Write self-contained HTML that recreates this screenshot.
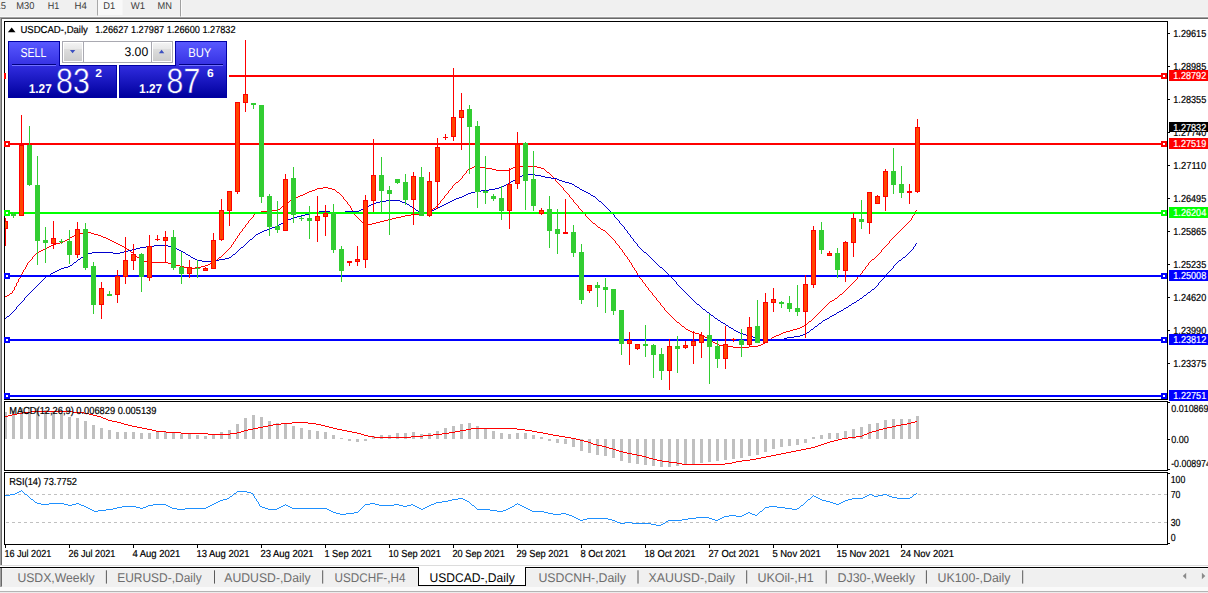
<!DOCTYPE html>
<html><head><meta charset="utf-8"><title>USDCAD Daily</title>
<style>html,body{margin:0;padding:0;background:#f0f0f0;overflow:hidden}body{width:1208px;height:593px;font-family:"Liberation Sans",sans-serif}</style></head>
<body>
<svg width="1208" height="593" viewBox="0 0 1208 593" font-family="Liberation Sans, sans-serif" style="display:block;text-rendering:geometricPrecision">
<defs><linearGradient id="gb1" x1="0" y1="0" x2="0" y2="1"><stop offset="0" stop-color="#5858ff"/><stop offset="1" stop-color="#3430e2"/></linearGradient><linearGradient id="gb2" gradientUnits="userSpaceOnUse" x1="0" y1="66" x2="0" y2="97"><stop offset="0" stop-color="#302cde"/><stop offset="1" stop-color="#00009e"/></linearGradient><linearGradient id="gbtn" x1="0" y1="0" x2="0" y2="1"><stop offset="0" stop-color="#f3f3f3"/><stop offset="0.34" stop-color="#e8e8e8"/><stop offset="0.35" stop-color="#dddddd"/><stop offset="1" stop-color="#cdcdcd"/></linearGradient><linearGradient id="gtb" x1="0" y1="0" x2="0" y2="1"><stop offset="0" stop-color="#f0f0f0"/><stop offset="0.4" stop-color="#c8c8c8"/><stop offset="1" stop-color="#9a9a9a"/></linearGradient></defs>
<rect x="0" y="0" width="1208" height="593" fill="#f0f0f0"/>
<rect x="0" y="16" width="1208" height="1" fill="#f8f8f8"/>
<rect x="0" y="17" width="1208" height="1" fill="#a0a0a0"/>
<rect x="0" y="18" width="1208" height="1" fill="#696969"/>
<rect x="0" y="18" width="1" height="547" fill="#a0a0a0"/>
<rect x="1" y="19" width="1" height="546" fill="#696969"/>
<rect x="2" y="19" width="1206" height="546.5" fill="#fff"/>
<rect x="97.5" y="0" width="25" height="15" fill="#f9f9f9"/>
<rect x="97" y="0" width="1" height="15.5" fill="#a8a8a8"/>
<rect x="180" y="0" width="1" height="16.5" fill="#a0a0a0"/>
<rect x="181" y="0" width="1" height="16" fill="#fbfbfb"/>
<text x="-4.5" y="8.6" font-size="9.9" fill="#3c3c3c" textLength="10.5" lengthAdjust="spacingAndGlyphs" >15</text>
<text x="16.3" y="8.6" font-size="9.9" fill="#3c3c3c" textLength="18.1" lengthAdjust="spacingAndGlyphs" >M30</text>
<text x="47.7" y="8.6" font-size="9.9" fill="#3c3c3c" textLength="11.5" lengthAdjust="spacingAndGlyphs" >H1</text>
<text x="74.5" y="8.6" font-size="9.9" fill="#3c3c3c" textLength="12.3" lengthAdjust="spacingAndGlyphs" >H4</text>
<text x="103.3" y="8.6" font-size="9.9" fill="#3c3c3c" textLength="11.9" lengthAdjust="spacingAndGlyphs" >D1</text>
<text x="130.7" y="8.6" font-size="9.9" fill="#3c3c3c" textLength="14.3" lengthAdjust="spacingAndGlyphs" >W1</text>
<text x="157.6" y="8.6" font-size="9.9" fill="#3c3c3c" textLength="14.4" lengthAdjust="spacingAndGlyphs" >MN</text>
<g shape-rendering="crispEdges">
<path d="M474 166.5h4M515 166.5h22M472 167.5h2M478 167.5h8M513 167.5h2M537 167.5h4M470 168.5h2M486 168.5h6M511 168.5h2M541 168.5h3M468 169.5h2M492 169.5h4M509 169.5h2M544 169.5h1M467 170.5h1M496 170.5h13M545 170.5h1M466 171.5h1M546 171.5h1M466 172.5h1M547 172.5h2M465 173.5h1M549 173.5h1M464 174.5h1M550 174.5h1M463 175.5h1M551 175.5h1M462 176.5h1M552 176.5h1M462 177.5h1M553 177.5h1M461 178.5h1M554 178.5h1M460 179.5h1M555 179.5h1M459 180.5h1M555 180.5h1M458 181.5h1M556 181.5h1M456 182.5h2M557 182.5h1M455 183.5h1M558 183.5h1M454 184.5h1M559 184.5h1M453 185.5h1M560 185.5h1M452 186.5h1M561 186.5h1M323 187.5h5M452 187.5h1M562 187.5h1M317 188.5h6M328 188.5h4M451 188.5h1M563 188.5h1M315 189.5h2M332 189.5h3M450 189.5h1M563 189.5h1M312 190.5h3M335 190.5h1M449 190.5h1M564 190.5h1M309 191.5h3M336 191.5h1M448 191.5h1M565 191.5h1M307 192.5h2M337 192.5h2M448 192.5h1M566 192.5h1M305 193.5h2M339 193.5h1M447 193.5h1M567 193.5h1M303 194.5h2M340 194.5h1M446 194.5h1M568 194.5h1M300 195.5h3M341 195.5h1M445 195.5h1M569 195.5h1M298 196.5h2M342 196.5h1M444 196.5h1M569 196.5h1M295 197.5h3M343 197.5h1M444 197.5h1M570 197.5h1M293 198.5h2M343 198.5h1M443 198.5h1M571 198.5h1M292 199.5h1M344 199.5h1M442 199.5h1M572 199.5h1M290 200.5h2M345 200.5h1M441 200.5h1M573 200.5h1M289 201.5h1M346 201.5h1M440 201.5h1M573 201.5h1M288 202.5h1M347 202.5h1M440 202.5h1M574 202.5h1M286 203.5h2M347 203.5h1M439 203.5h1M575 203.5h1M285 204.5h1M348 204.5h1M438 204.5h1M576 204.5h1M284 205.5h1M349 205.5h1M437 205.5h1M577 205.5h1M282 206.5h2M350 206.5h1M436 206.5h1M578 206.5h1M281 207.5h1M350 207.5h1M435 207.5h1M578 207.5h1M280 208.5h1M351 208.5h1M433 208.5h2M579 208.5h1M278 209.5h2M351 209.5h1M432 209.5h1M580 209.5h1M270 210.5h8M352 210.5h1M431 210.5h1M581 210.5h1M916 210.5h1M261 211.5h9M353 211.5h1M429 211.5h2M582 211.5h1M915 211.5h1M257 212.5h4M353 212.5h1M427 212.5h2M583 212.5h1M915 212.5h1M255 213.5h2M354 213.5h1M424 213.5h3M584 213.5h1M914 213.5h1M254 214.5h1M354 214.5h1M411 214.5h13M585 214.5h1M914 214.5h1M253 215.5h1M355 215.5h1M405 215.5h6M585 215.5h1M913 215.5h1M253 216.5h1M356 216.5h1M401 216.5h4M586 216.5h1M912 216.5h1M252 217.5h1M357 217.5h1M396 217.5h5M587 217.5h1M912 217.5h1M251 218.5h1M358 218.5h1M392 218.5h4M588 218.5h1M911 218.5h1M250 219.5h1M359 219.5h1M388 219.5h4M589 219.5h1M911 219.5h1M249 220.5h1M360 220.5h1M384 220.5h4M590 220.5h1M910 220.5h1M248 221.5h1M361 221.5h1M380 221.5h4M591 221.5h1M909 221.5h1M248 222.5h1M362 222.5h1M376 222.5h4M592 222.5h1M908 222.5h1M247 223.5h1M363 223.5h3M372 223.5h4M593 223.5h2M907 223.5h1M246 224.5h1M366 224.5h6M595 224.5h1M906 224.5h1M245 225.5h1M596 225.5h1M905 225.5h1M245 226.5h1M597 226.5h1M904 226.5h1M244 227.5h1M598 227.5h2M903 227.5h1M243 228.5h1M600 228.5h1M902 228.5h1M242 229.5h1M601 229.5h2M901 229.5h1M242 230.5h1M603 230.5h2M900 230.5h1M241 231.5h1M605 231.5h1M899 231.5h1M84 232.5h7M240 232.5h1M606 232.5h1M898 232.5h1M77 233.5h7M91 233.5h3M239 233.5h1M607 233.5h1M897 233.5h1M75 234.5h2M94 234.5h4M239 234.5h1M608 234.5h1M896 234.5h1M74 235.5h1M98 235.5h3M238 235.5h1M609 235.5h1M895 235.5h1M72 236.5h2M101 236.5h2M237 236.5h1M610 236.5h1M894 236.5h1M70 237.5h2M103 237.5h3M237 237.5h1M611 237.5h1M893 237.5h1M69 238.5h1M106 238.5h2M236 238.5h1M612 238.5h1M892 238.5h1M67 239.5h2M108 239.5h2M235 239.5h1M613 239.5h1M891 239.5h1M65 240.5h2M110 240.5h2M235 240.5h1M614 240.5h1M890 240.5h1M63 241.5h2M112 241.5h2M234 241.5h1M615 241.5h1M889 241.5h1M60 242.5h3M114 242.5h2M233 242.5h1M615 242.5h1M889 242.5h1M56 243.5h4M116 243.5h2M233 243.5h1M616 243.5h1M888 243.5h1M53 244.5h3M118 244.5h2M232 244.5h1M617 244.5h1M887 244.5h1M51 245.5h2M120 245.5h2M231 245.5h1M618 245.5h1M886 245.5h1M49 246.5h2M122 246.5h2M231 246.5h1M619 246.5h1M885 246.5h1M47 247.5h2M124 247.5h2M230 247.5h1M619 247.5h1M884 247.5h1M45 248.5h2M126 248.5h1M229 248.5h1M620 248.5h1M883 248.5h1M43 249.5h2M127 249.5h2M228 249.5h1M621 249.5h1M882 249.5h1M41 250.5h2M129 250.5h1M227 250.5h1M622 250.5h1M881 250.5h1M39 251.5h2M130 251.5h1M226 251.5h1M622 251.5h1M881 251.5h1M37 252.5h2M131 252.5h2M225 252.5h1M623 252.5h1M880 252.5h1M36 253.5h1M133 253.5h1M224 253.5h1M624 253.5h1M879 253.5h1M35 254.5h1M134 254.5h1M223 254.5h1M624 254.5h1M878 254.5h1M34 255.5h1M135 255.5h1M222 255.5h1M625 255.5h1M877 255.5h1M33 256.5h1M136 256.5h1M221 256.5h1M626 256.5h1M876 256.5h1M32 257.5h1M137 257.5h2M219 257.5h2M627 257.5h1M875 257.5h1M32 258.5h1M139 258.5h1M218 258.5h1M627 258.5h1M874 258.5h1M31 259.5h1M140 259.5h1M217 259.5h1M628 259.5h1M872 259.5h2M30 260.5h1M141 260.5h2M215 260.5h2M629 260.5h1M871 260.5h1M29 261.5h1M143 261.5h4M214 261.5h1M629 261.5h1M870 261.5h1M28 262.5h1M147 262.5h21M212 262.5h2M630 262.5h1M869 262.5h1M27 263.5h1M168 263.5h4M210 263.5h2M631 263.5h1M868 263.5h1M27 264.5h1M172 264.5h4M208 264.5h2M631 264.5h1M868 264.5h1M26 265.5h1M176 265.5h4M205 265.5h3M632 265.5h1M867 265.5h1M26 266.5h1M180 266.5h4M201 266.5h4M632 266.5h1M866 266.5h1M25 267.5h1M184 267.5h4M195 267.5h6M633 267.5h1M865 267.5h1M25 268.5h1M188 268.5h7M634 268.5h1M865 268.5h1M24 269.5h1M634 269.5h1M864 269.5h1M23 270.5h1M635 270.5h1M863 270.5h1M23 271.5h1M636 271.5h1M862 271.5h1M22 272.5h1M636 272.5h1M862 272.5h1M22 273.5h1M637 273.5h1M861 273.5h1M21 274.5h1M637 274.5h1M860 274.5h1M21 275.5h1M638 275.5h1M859 275.5h1M20 276.5h1M639 276.5h1M858 276.5h1M20 277.5h1M639 277.5h1M857 277.5h1M19 278.5h1M640 278.5h1M857 278.5h1M18 279.5h1M641 279.5h1M856 279.5h1M18 280.5h1M642 280.5h1M855 280.5h1M18 281.5h1M642 281.5h1M854 281.5h1M17 282.5h1M643 282.5h1M853 282.5h1M16 283.5h1M644 283.5h1M852 283.5h1M16 284.5h1M645 284.5h1M851 284.5h1M16 285.5h1M645 285.5h1M850 285.5h1M15 286.5h1M646 286.5h1M849 286.5h1M14 287.5h1M647 287.5h1M848 287.5h1M14 288.5h1M648 288.5h1M847 288.5h1M14 289.5h1M648 289.5h1M846 289.5h1M13 290.5h1M649 290.5h1M845 290.5h1M12 291.5h1M650 291.5h1M844 291.5h1M12 292.5h1M651 292.5h1M843 292.5h1M10 293.5h2M652 293.5h1M842 293.5h1M9 294.5h1M652 294.5h1M840 294.5h2M7 295.5h2M653 295.5h1M839 295.5h1M5 296.5h2M654 296.5h1M838 296.5h1M4 297.5h1M655 297.5h1M837 297.5h1M656 298.5h1M835 298.5h2M656 299.5h1M834 299.5h1M657 300.5h1M832 300.5h2M658 301.5h1M830 301.5h2M659 302.5h1M829 302.5h1M660 303.5h1M828 303.5h1M660 304.5h1M827 304.5h1M661 305.5h1M826 305.5h1M662 306.5h1M825 306.5h1M663 307.5h1M824 307.5h1M664 308.5h1M823 308.5h1M664 309.5h1M822 309.5h1M665 310.5h1M821 310.5h1M666 311.5h1M820 311.5h1M667 312.5h1M819 312.5h1M668 313.5h1M818 313.5h1M669 314.5h1M817 314.5h1M670 315.5h1M816 315.5h1M671 316.5h1M815 316.5h1M672 317.5h1M814 317.5h1M673 318.5h1M813 318.5h1M674 319.5h1M812 319.5h1M675 320.5h1M811 320.5h1M676 321.5h1M809 321.5h2M677 322.5h2M808 322.5h1M679 323.5h1M807 323.5h1M680 324.5h1M806 324.5h1M681 325.5h1M804 325.5h2M682 326.5h2M802 326.5h2M684 327.5h1M800 327.5h2M685 328.5h1M797 328.5h3M686 329.5h2M793 329.5h4M688 330.5h2M790 330.5h3M690 331.5h2M786 331.5h4M692 332.5h3M783 332.5h3M695 333.5h4M781 333.5h2M699 334.5h3M779 334.5h2M702 335.5h2M776 335.5h3M704 336.5h1M774 336.5h2M705 337.5h2M772 337.5h2M707 338.5h2M771 338.5h1M709 339.5h1M769 339.5h2M710 340.5h2M768 340.5h1M712 341.5h1M767 341.5h1M713 342.5h2M765 342.5h2M715 343.5h2M763 343.5h2M717 344.5h2M761 344.5h2M719 345.5h4M758 345.5h3M723 346.5h10M749 346.5h9M733 347.5h16" fill="none" stroke="#ff0000" stroke-width="1" shape-rendering="crispEdges"/>
<path d="M527 174.5h8M522 175.5h5M535 175.5h6M520 176.5h2M541 176.5h4M518 177.5h2M545 177.5h6M516 178.5h2M551 178.5h6M515 179.5h1M557 179.5h2M513 180.5h2M559 180.5h3M511 181.5h2M562 181.5h3M509 182.5h2M565 182.5h4M508 183.5h1M569 183.5h3M506 184.5h2M572 184.5h2M504 185.5h2M574 185.5h1M502 186.5h2M575 186.5h2M499 187.5h3M577 187.5h2M495 188.5h4M579 188.5h1M489 189.5h6M580 189.5h2M481 190.5h8M582 190.5h2M475 191.5h6M584 191.5h2M471 192.5h4M586 192.5h2M468 193.5h3M588 193.5h2M466 194.5h2M590 194.5h1M464 195.5h2M591 195.5h2M462 196.5h2M593 196.5h2M459 197.5h3M595 197.5h1M456 198.5h3M596 198.5h1M454 199.5h2M597 199.5h1M386 200.5h14M452 200.5h2M598 200.5h1M380 201.5h6M400 201.5h2M450 201.5h2M599 201.5h2M376 202.5h4M402 202.5h3M448 202.5h2M601 202.5h1M373 203.5h3M405 203.5h2M446 203.5h2M602 203.5h1M371 204.5h2M407 204.5h2M444 204.5h2M603 204.5h1M369 205.5h2M409 205.5h1M442 205.5h2M604 205.5h1M367 206.5h2M410 206.5h2M440 206.5h2M605 206.5h1M365 207.5h2M412 207.5h2M438 207.5h2M606 207.5h1M363 208.5h2M414 208.5h1M436 208.5h2M607 208.5h1M361 209.5h2M415 209.5h1M434 209.5h2M608 209.5h1M359 210.5h2M416 210.5h2M432 210.5h2M609 210.5h1M319 211.5h11M345 211.5h14M418 211.5h1M430 211.5h2M610 211.5h1M314 212.5h5M330 212.5h15M419 212.5h11M611 212.5h1M309 213.5h5M612 213.5h1M305 214.5h4M613 214.5h1M301 215.5h4M614 215.5h1M297 216.5h4M614 216.5h1M293 217.5h4M615 217.5h1M291 218.5h2M616 218.5h1M288 219.5h3M617 219.5h1M286 220.5h2M618 220.5h1M284 221.5h2M619 221.5h1M283 222.5h1M619 222.5h1M281 223.5h2M620 223.5h1M279 224.5h2M621 224.5h1M277 225.5h2M622 225.5h1M275 226.5h2M623 226.5h1M272 227.5h3M624 227.5h1M269 228.5h3M624 228.5h1M267 229.5h2M625 229.5h1M264 230.5h3M626 230.5h1M262 231.5h2M627 231.5h1M260 232.5h2M627 232.5h1M258 233.5h2M628 233.5h1M256 234.5h2M629 234.5h1M255 235.5h1M630 235.5h1M254 236.5h1M630 236.5h1M253 237.5h1M631 237.5h1M252 238.5h1M632 238.5h1M250 239.5h2M633 239.5h1M249 240.5h1M633 240.5h1M248 241.5h1M634 241.5h1M247 242.5h1M635 242.5h1M246 243.5h1M636 243.5h1M916 243.5h1M245 244.5h1M637 244.5h1M915 244.5h1M154 245.5h14M244 245.5h1M637 245.5h1M915 245.5h1M146 246.5h8M168 246.5h4M243 246.5h1M638 246.5h1M914 246.5h1M140 247.5h6M172 247.5h3M241 247.5h2M639 247.5h1M913 247.5h1M136 248.5h4M175 248.5h2M240 248.5h1M640 248.5h1M913 248.5h1M132 249.5h4M177 249.5h2M239 249.5h1M641 249.5h1M912 249.5h1M128 250.5h4M179 250.5h2M238 250.5h1M642 250.5h1M911 250.5h1M124 251.5h4M181 251.5h2M237 251.5h1M643 251.5h1M910 251.5h1M92 252.5h21M120 252.5h4M183 252.5h2M236 252.5h1M644 252.5h2M909 252.5h1M88 253.5h4M113 253.5h7M185 253.5h1M235 253.5h1M646 253.5h1M908 253.5h1M86 254.5h2M186 254.5h2M233 254.5h2M647 254.5h1M907 254.5h1M84 255.5h2M188 255.5h2M232 255.5h1M648 255.5h1M906 255.5h1M83 256.5h1M190 256.5h1M231 256.5h1M649 256.5h1M905 256.5h1M81 257.5h2M191 257.5h2M229 257.5h2M650 257.5h1M903 257.5h2M80 258.5h1M193 258.5h2M225 258.5h4M651 258.5h1M902 258.5h1M78 259.5h2M195 259.5h2M219 259.5h6M652 259.5h1M901 259.5h1M77 260.5h1M197 260.5h5M211 260.5h8M653 260.5h1M899 260.5h2M76 261.5h1M202 261.5h9M654 261.5h1M898 261.5h1M74 262.5h2M655 262.5h1M897 262.5h1M73 263.5h1M656 263.5h1M896 263.5h1M72 264.5h1M657 264.5h1M895 264.5h1M70 265.5h2M658 265.5h1M894 265.5h1M68 266.5h2M659 266.5h1M893 266.5h1M64 267.5h4M660 267.5h2M893 267.5h1M61 268.5h3M662 268.5h1M892 268.5h1M59 269.5h2M663 269.5h1M891 269.5h1M57 270.5h2M664 270.5h1M890 270.5h1M55 271.5h2M665 271.5h1M889 271.5h1M53 272.5h2M666 272.5h1M888 272.5h1M51 273.5h2M667 273.5h1M887 273.5h1M50 274.5h1M668 274.5h1M886 274.5h1M48 275.5h2M669 275.5h1M885 275.5h1M46 276.5h2M670 276.5h1M885 276.5h1M45 277.5h1M671 277.5h1M884 277.5h1M44 278.5h1M672 278.5h1M883 278.5h1M43 279.5h1M673 279.5h1M882 279.5h1M42 280.5h1M674 280.5h1M881 280.5h1M41 281.5h1M675 281.5h1M880 281.5h1M40 282.5h1M676 282.5h1M879 282.5h1M39 283.5h1M676 283.5h1M878 283.5h1M38 284.5h1M677 284.5h1M878 284.5h1M37 285.5h1M678 285.5h1M877 285.5h1M36 286.5h1M679 286.5h1M876 286.5h1M35 287.5h1M680 287.5h1M875 287.5h1M34 288.5h1M681 288.5h1M874 288.5h1M33 289.5h1M682 289.5h1M872 289.5h2M32 290.5h1M683 290.5h1M871 290.5h1M31 291.5h1M684 291.5h1M870 291.5h1M30 292.5h1M685 292.5h1M868 292.5h2M29 293.5h1M686 293.5h1M867 293.5h1M28 294.5h1M687 294.5h1M866 294.5h1M27 295.5h1M688 295.5h1M864 295.5h2M26 296.5h1M689 296.5h1M863 296.5h1M25 297.5h1M690 297.5h1M862 297.5h1M24 298.5h1M691 298.5h1M860 298.5h2M24 299.5h1M692 299.5h1M859 299.5h1M23 300.5h1M693 300.5h1M857 300.5h2M22 301.5h1M694 301.5h1M856 301.5h1M21 302.5h1M695 302.5h1M854 302.5h2M20 303.5h1M696 303.5h1M852 303.5h2M19 304.5h1M697 304.5h2M851 304.5h1M18 305.5h1M699 305.5h1M849 305.5h2M17 306.5h1M700 306.5h1M848 306.5h1M16 307.5h1M701 307.5h1M846 307.5h2M16 308.5h1M702 308.5h1M844 308.5h2M15 309.5h1M703 309.5h2M843 309.5h1M14 310.5h1M705 310.5h1M841 310.5h2M13 311.5h1M706 311.5h1M839 311.5h2M12 312.5h1M707 312.5h2M837 312.5h2M11 313.5h1M709 313.5h1M836 313.5h1M10 314.5h1M710 314.5h1M834 314.5h2M9 315.5h1M711 315.5h2M832 315.5h2M7 316.5h2M713 316.5h1M830 316.5h2M6 317.5h1M714 317.5h1M829 317.5h1M5 318.5h1M715 318.5h2M827 318.5h2M4 319.5h1M717 319.5h1M825 319.5h2M718 320.5h2M823 320.5h2M720 321.5h1M822 321.5h1M721 322.5h2M821 322.5h1M723 323.5h2M819 323.5h2M725 324.5h1M818 324.5h1M726 325.5h2M817 325.5h1M728 326.5h1M815 326.5h2M729 327.5h2M814 327.5h1M731 328.5h2M813 328.5h1M733 329.5h1M811 329.5h2M734 330.5h2M810 330.5h1M736 331.5h2M809 331.5h1M738 332.5h2M807 332.5h2M740 333.5h3M805 333.5h2M743 334.5h3M803 334.5h2M746 335.5h3M800 335.5h3M749 336.5h4M794 336.5h6M753 337.5h3M787 337.5h7M756 338.5h3M784 338.5h3M759 339.5h25" fill="none" stroke="#0000cd" stroke-width="1" shape-rendering="crispEdges"/>
<rect x="5" y="75" width="1162" height="2" fill="#ff0000"/>
<rect x="5" y="143" width="1162" height="2" fill="#ff0000"/>
<rect x="5" y="212" width="1162" height="2" fill="#00ff00"/>
<rect x="5" y="275" width="1162" height="2" fill="#0000ff"/>
<rect x="5" y="339" width="1162" height="2" fill="#0000ff"/>
<rect x="5" y="395" width="1162" height="2" fill="#0000ff"/>
<rect x="5" y="218" width="1" height="28" fill="#ff0000"/>
<rect x="5" y="221" width="3" height="8" fill="#ff0000"/>
<rect x="5" y="222" width="2" height="6" fill="#ff4500"/>
<rect x="13" y="212" width="1" height="6" fill="#32cd32"/>
<rect x="11" y="214" width="5" height="2" fill="#32cd32"/>
<rect x="21" y="115" width="1" height="101" fill="#ff0000"/>
<rect x="19" y="145" width="5" height="71" fill="#ff0000"/>
<rect x="20" y="146" width="3" height="69" fill="#ff4500"/>
<rect x="29" y="126" width="1" height="60" fill="#32cd32"/>
<rect x="27" y="145" width="5" height="40" fill="#32cd32"/>
<rect x="28" y="146" width="3" height="38" fill="#32cd32"/>
<rect x="37" y="156" width="1" height="109" fill="#32cd32"/>
<rect x="35" y="185" width="5" height="56" fill="#32cd32"/>
<rect x="36" y="186" width="3" height="54" fill="#32cd32"/>
<rect x="45" y="227" width="1" height="36" fill="#32cd32"/>
<rect x="43" y="240" width="5" height="3" fill="#32cd32"/>
<rect x="44" y="241" width="3" height="1" fill="#32cd32"/>
<rect x="53" y="221" width="1" height="28" fill="#ff0000"/>
<rect x="51" y="238" width="5" height="6" fill="#ff0000"/>
<rect x="52" y="239" width="3" height="4" fill="#ff4500"/>
<rect x="61" y="239" width="1" height="5" fill="#32cd32"/>
<rect x="59" y="241" width="5" height="1" fill="#32cd32"/>
<rect x="69" y="230" width="1" height="34" fill="#32cd32"/>
<rect x="67" y="241" width="5" height="14" fill="#32cd32"/>
<rect x="68" y="242" width="3" height="12" fill="#32cd32"/>
<rect x="77" y="222" width="1" height="36" fill="#ff0000"/>
<rect x="75" y="229" width="5" height="26" fill="#ff0000"/>
<rect x="76" y="230" width="3" height="24" fill="#ff4500"/>
<rect x="85" y="223" width="1" height="47" fill="#32cd32"/>
<rect x="83" y="229" width="5" height="39" fill="#32cd32"/>
<rect x="84" y="230" width="3" height="37" fill="#32cd32"/>
<rect x="93" y="262" width="1" height="52" fill="#32cd32"/>
<rect x="91" y="266" width="5" height="39" fill="#32cd32"/>
<rect x="92" y="267" width="3" height="37" fill="#32cd32"/>
<rect x="101" y="282" width="1" height="37" fill="#ff0000"/>
<rect x="99" y="288" width="5" height="17" fill="#ff0000"/>
<rect x="100" y="289" width="3" height="15" fill="#ff4500"/>
<rect x="109" y="291" width="1" height="5" fill="#32cd32"/>
<rect x="107" y="294" width="5" height="2" fill="#32cd32"/>
<rect x="117" y="270" width="1" height="33" fill="#ff0000"/>
<rect x="115" y="276" width="5" height="19" fill="#ff0000"/>
<rect x="116" y="277" width="3" height="17" fill="#ff4500"/>
<rect x="125" y="237" width="1" height="47" fill="#ff0000"/>
<rect x="123" y="260" width="5" height="17" fill="#ff0000"/>
<rect x="124" y="261" width="3" height="15" fill="#ff4500"/>
<rect x="133" y="244" width="1" height="26" fill="#ff0000"/>
<rect x="131" y="254" width="5" height="7" fill="#ff0000"/>
<rect x="132" y="255" width="3" height="5" fill="#ff4500"/>
<rect x="141" y="253" width="1" height="39" fill="#32cd32"/>
<rect x="139" y="254" width="5" height="23" fill="#32cd32"/>
<rect x="140" y="255" width="3" height="21" fill="#32cd32"/>
<rect x="149" y="235" width="1" height="46" fill="#ff0000"/>
<rect x="147" y="246" width="5" height="32" fill="#ff0000"/>
<rect x="148" y="247" width="3" height="30" fill="#ff4500"/>
<rect x="157" y="235" width="1" height="6" fill="#ff0000"/>
<rect x="155" y="239" width="5" height="1" fill="#ff0000"/>
<rect x="165" y="231" width="1" height="32" fill="#ff0000"/>
<rect x="163" y="237" width="5" height="4" fill="#ff0000"/>
<rect x="164" y="238" width="3" height="2" fill="#ff4500"/>
<rect x="173" y="230" width="1" height="40" fill="#32cd32"/>
<rect x="171" y="237" width="5" height="31" fill="#32cd32"/>
<rect x="172" y="238" width="3" height="29" fill="#32cd32"/>
<rect x="181" y="252" width="1" height="32" fill="#32cd32"/>
<rect x="179" y="267" width="5" height="7" fill="#32cd32"/>
<rect x="180" y="268" width="3" height="5" fill="#32cd32"/>
<rect x="189" y="260" width="1" height="18" fill="#ff0000"/>
<rect x="187" y="267" width="5" height="7" fill="#ff0000"/>
<rect x="188" y="268" width="3" height="5" fill="#ff4500"/>
<rect x="197" y="260" width="1" height="18" fill="#32cd32"/>
<rect x="195" y="268" width="5" height="1" fill="#32cd32"/>
<rect x="205" y="267" width="1" height="4" fill="#ff0000"/>
<rect x="203" y="268" width="5" height="3" fill="#ff0000"/>
<rect x="204" y="269" width="3" height="1" fill="#ff4500"/>
<rect x="213" y="233" width="1" height="36" fill="#ff0000"/>
<rect x="211" y="240" width="5" height="29" fill="#ff0000"/>
<rect x="212" y="241" width="3" height="27" fill="#ff4500"/>
<rect x="221" y="199" width="1" height="42" fill="#ff0000"/>
<rect x="219" y="210" width="5" height="30" fill="#ff0000"/>
<rect x="220" y="211" width="3" height="28" fill="#ff4500"/>
<rect x="229" y="191" width="1" height="35" fill="#ff0000"/>
<rect x="227" y="191" width="5" height="20" fill="#ff0000"/>
<rect x="228" y="192" width="3" height="18" fill="#ff4500"/>
<rect x="237" y="102" width="1" height="92" fill="#ff0000"/>
<rect x="235" y="102" width="5" height="90" fill="#ff0000"/>
<rect x="236" y="103" width="3" height="88" fill="#ff4500"/>
<rect x="245" y="40" width="1" height="72" fill="#ff0000"/>
<rect x="243" y="94" width="5" height="9" fill="#ff0000"/>
<rect x="244" y="95" width="3" height="7" fill="#ff4500"/>
<rect x="253" y="103" width="1" height="6" fill="#32cd32"/>
<rect x="251" y="103" width="5" height="2" fill="#32cd32"/>
<rect x="261" y="105" width="1" height="98" fill="#32cd32"/>
<rect x="259" y="105" width="5" height="92" fill="#32cd32"/>
<rect x="260" y="106" width="3" height="90" fill="#32cd32"/>
<rect x="269" y="194" width="1" height="42" fill="#32cd32"/>
<rect x="267" y="196" width="5" height="31" fill="#32cd32"/>
<rect x="268" y="197" width="3" height="29" fill="#32cd32"/>
<rect x="277" y="201" width="1" height="32" fill="#32cd32"/>
<rect x="275" y="226" width="5" height="4" fill="#32cd32"/>
<rect x="276" y="227" width="3" height="2" fill="#32cd32"/>
<rect x="285" y="174" width="1" height="57" fill="#ff0000"/>
<rect x="283" y="179" width="5" height="52" fill="#ff0000"/>
<rect x="284" y="180" width="3" height="50" fill="#ff4500"/>
<rect x="293" y="167" width="1" height="56" fill="#32cd32"/>
<rect x="291" y="178" width="5" height="37" fill="#32cd32"/>
<rect x="292" y="179" width="3" height="35" fill="#32cd32"/>
<rect x="301" y="216" width="1" height="5" fill="#32cd32"/>
<rect x="299" y="218" width="5" height="1" fill="#32cd32"/>
<rect x="309" y="206" width="1" height="33" fill="#32cd32"/>
<rect x="307" y="218" width="5" height="3" fill="#32cd32"/>
<rect x="308" y="219" width="3" height="1" fill="#32cd32"/>
<rect x="317" y="196" width="1" height="46" fill="#ff0000"/>
<rect x="315" y="216" width="5" height="5" fill="#ff0000"/>
<rect x="316" y="217" width="3" height="3" fill="#ff4500"/>
<rect x="325" y="205" width="1" height="31" fill="#ff0000"/>
<rect x="323" y="213" width="5" height="4" fill="#ff0000"/>
<rect x="324" y="214" width="3" height="2" fill="#ff4500"/>
<rect x="333" y="204" width="1" height="49" fill="#32cd32"/>
<rect x="331" y="213" width="5" height="37" fill="#32cd32"/>
<rect x="332" y="214" width="3" height="35" fill="#32cd32"/>
<rect x="341" y="246" width="1" height="36" fill="#32cd32"/>
<rect x="339" y="249" width="5" height="22" fill="#32cd32"/>
<rect x="340" y="250" width="3" height="20" fill="#32cd32"/>
<rect x="349" y="261" width="1" height="5" fill="#ff0000"/>
<rect x="347" y="261" width="5" height="2" fill="#ff0000"/>
<rect x="357" y="246" width="1" height="20" fill="#ff0000"/>
<rect x="355" y="259" width="5" height="3" fill="#ff0000"/>
<rect x="356" y="260" width="3" height="1" fill="#ff4500"/>
<rect x="365" y="195" width="1" height="73" fill="#ff0000"/>
<rect x="363" y="200" width="5" height="60" fill="#ff0000"/>
<rect x="364" y="201" width="3" height="58" fill="#ff4500"/>
<rect x="373" y="139" width="1" height="73" fill="#ff0000"/>
<rect x="371" y="175" width="5" height="26" fill="#ff0000"/>
<rect x="372" y="176" width="3" height="24" fill="#ff4500"/>
<rect x="381" y="157" width="1" height="56" fill="#32cd32"/>
<rect x="379" y="175" width="5" height="16" fill="#32cd32"/>
<rect x="380" y="176" width="3" height="14" fill="#32cd32"/>
<rect x="389" y="186" width="1" height="49" fill="#32cd32"/>
<rect x="387" y="190" width="5" height="4" fill="#32cd32"/>
<rect x="388" y="191" width="3" height="2" fill="#32cd32"/>
<rect x="397" y="179" width="1" height="5" fill="#32cd32"/>
<rect x="395" y="179" width="5" height="4" fill="#32cd32"/>
<rect x="396" y="180" width="3" height="2" fill="#32cd32"/>
<rect x="405" y="174" width="1" height="31" fill="#32cd32"/>
<rect x="403" y="182" width="5" height="18" fill="#32cd32"/>
<rect x="404" y="183" width="3" height="16" fill="#32cd32"/>
<rect x="413" y="172" width="1" height="53" fill="#ff0000"/>
<rect x="411" y="176" width="5" height="24" fill="#ff0000"/>
<rect x="412" y="177" width="3" height="22" fill="#ff4500"/>
<rect x="421" y="167" width="1" height="49" fill="#32cd32"/>
<rect x="419" y="177" width="5" height="39" fill="#32cd32"/>
<rect x="420" y="178" width="3" height="37" fill="#32cd32"/>
<rect x="429" y="172" width="1" height="45" fill="#ff0000"/>
<rect x="427" y="181" width="5" height="35" fill="#ff0000"/>
<rect x="428" y="182" width="3" height="33" fill="#ff4500"/>
<rect x="437" y="138" width="1" height="71" fill="#ff0000"/>
<rect x="435" y="147" width="5" height="35" fill="#ff0000"/>
<rect x="436" y="148" width="3" height="33" fill="#ff4500"/>
<rect x="445" y="134" width="1" height="6" fill="#ff0000"/>
<rect x="443" y="137" width="5" height="1" fill="#ff0000"/>
<rect x="453" y="68" width="1" height="73" fill="#ff0000"/>
<rect x="451" y="117" width="5" height="20" fill="#ff0000"/>
<rect x="452" y="118" width="3" height="18" fill="#ff4500"/>
<rect x="461" y="93" width="1" height="57" fill="#ff0000"/>
<rect x="459" y="110" width="5" height="8" fill="#ff0000"/>
<rect x="460" y="111" width="3" height="6" fill="#ff4500"/>
<rect x="469" y="105" width="1" height="69" fill="#32cd32"/>
<rect x="467" y="109" width="5" height="18" fill="#32cd32"/>
<rect x="468" y="110" width="3" height="16" fill="#32cd32"/>
<rect x="477" y="121" width="1" height="87" fill="#32cd32"/>
<rect x="475" y="126" width="5" height="66" fill="#32cd32"/>
<rect x="476" y="127" width="3" height="64" fill="#32cd32"/>
<rect x="485" y="156" width="1" height="48" fill="#32cd32"/>
<rect x="483" y="191" width="5" height="2" fill="#32cd32"/>
<rect x="493" y="194" width="1" height="7" fill="#32cd32"/>
<rect x="491" y="196" width="5" height="3" fill="#32cd32"/>
<rect x="492" y="197" width="3" height="1" fill="#32cd32"/>
<rect x="501" y="186" width="1" height="34" fill="#32cd32"/>
<rect x="499" y="198" width="5" height="13" fill="#32cd32"/>
<rect x="500" y="199" width="3" height="11" fill="#32cd32"/>
<rect x="509" y="168" width="1" height="61" fill="#ff0000"/>
<rect x="507" y="184" width="5" height="27" fill="#ff0000"/>
<rect x="508" y="185" width="3" height="25" fill="#ff4500"/>
<rect x="517" y="132" width="1" height="57" fill="#ff0000"/>
<rect x="515" y="144" width="5" height="40" fill="#ff0000"/>
<rect x="516" y="145" width="3" height="38" fill="#ff4500"/>
<rect x="525" y="142" width="1" height="68" fill="#32cd32"/>
<rect x="523" y="143" width="5" height="38" fill="#32cd32"/>
<rect x="524" y="144" width="3" height="36" fill="#32cd32"/>
<rect x="533" y="151" width="1" height="60" fill="#32cd32"/>
<rect x="531" y="179" width="5" height="27" fill="#32cd32"/>
<rect x="532" y="180" width="3" height="25" fill="#32cd32"/>
<rect x="541" y="208" width="1" height="7" fill="#ff0000"/>
<rect x="539" y="210" width="5" height="4" fill="#ff0000"/>
<rect x="540" y="211" width="3" height="2" fill="#ff4500"/>
<rect x="549" y="196" width="1" height="52" fill="#32cd32"/>
<rect x="547" y="209" width="5" height="22" fill="#32cd32"/>
<rect x="548" y="210" width="3" height="20" fill="#32cd32"/>
<rect x="557" y="209" width="1" height="45" fill="#32cd32"/>
<rect x="555" y="229" width="5" height="5" fill="#32cd32"/>
<rect x="556" y="230" width="3" height="3" fill="#32cd32"/>
<rect x="565" y="199" width="1" height="35" fill="#ff0000"/>
<rect x="563" y="232" width="5" height="2" fill="#ff0000"/>
<rect x="573" y="225" width="1" height="32" fill="#32cd32"/>
<rect x="571" y="232" width="5" height="21" fill="#32cd32"/>
<rect x="572" y="233" width="3" height="19" fill="#32cd32"/>
<rect x="581" y="244" width="1" height="60" fill="#32cd32"/>
<rect x="579" y="252" width="5" height="48" fill="#32cd32"/>
<rect x="580" y="253" width="3" height="46" fill="#32cd32"/>
<rect x="589" y="285" width="1" height="8" fill="#ff0000"/>
<rect x="587" y="285" width="5" height="6" fill="#ff0000"/>
<rect x="588" y="286" width="3" height="4" fill="#ff4500"/>
<rect x="597" y="282" width="1" height="25" fill="#32cd32"/>
<rect x="595" y="285" width="5" height="3" fill="#32cd32"/>
<rect x="596" y="286" width="3" height="1" fill="#32cd32"/>
<rect x="605" y="278" width="1" height="35" fill="#32cd32"/>
<rect x="603" y="287" width="5" height="3" fill="#32cd32"/>
<rect x="604" y="288" width="3" height="1" fill="#32cd32"/>
<rect x="613" y="289" width="1" height="26" fill="#32cd32"/>
<rect x="611" y="289" width="5" height="22" fill="#32cd32"/>
<rect x="612" y="290" width="3" height="20" fill="#32cd32"/>
<rect x="621" y="310" width="1" height="45" fill="#32cd32"/>
<rect x="619" y="310" width="5" height="34" fill="#32cd32"/>
<rect x="620" y="311" width="3" height="32" fill="#32cd32"/>
<rect x="629" y="332" width="1" height="33" fill="#ff0000"/>
<rect x="627" y="340" width="5" height="4" fill="#ff0000"/>
<rect x="628" y="341" width="3" height="2" fill="#ff4500"/>
<rect x="637" y="344" width="1" height="6" fill="#ff0000"/>
<rect x="635" y="344" width="5" height="5" fill="#ff0000"/>
<rect x="636" y="345" width="3" height="3" fill="#ff4500"/>
<rect x="645" y="325" width="1" height="32" fill="#32cd32"/>
<rect x="643" y="344" width="5" height="2" fill="#32cd32"/>
<rect x="653" y="344" width="1" height="34" fill="#32cd32"/>
<rect x="651" y="345" width="5" height="10" fill="#32cd32"/>
<rect x="652" y="346" width="3" height="8" fill="#32cd32"/>
<rect x="661" y="348" width="1" height="32" fill="#32cd32"/>
<rect x="659" y="354" width="5" height="17" fill="#32cd32"/>
<rect x="660" y="355" width="3" height="15" fill="#32cd32"/>
<rect x="669" y="339" width="1" height="51" fill="#ff0000"/>
<rect x="667" y="346" width="5" height="25" fill="#ff0000"/>
<rect x="668" y="347" width="3" height="23" fill="#ff4500"/>
<rect x="677" y="336" width="1" height="37" fill="#32cd32"/>
<rect x="675" y="346" width="5" height="3" fill="#32cd32"/>
<rect x="676" y="347" width="3" height="1" fill="#32cd32"/>
<rect x="685" y="341" width="1" height="8" fill="#ff0000"/>
<rect x="683" y="345" width="5" height="3" fill="#ff0000"/>
<rect x="684" y="346" width="3" height="1" fill="#ff4500"/>
<rect x="693" y="331" width="1" height="33" fill="#ff0000"/>
<rect x="691" y="341" width="5" height="5" fill="#ff0000"/>
<rect x="692" y="342" width="3" height="3" fill="#ff4500"/>
<rect x="701" y="332" width="1" height="26" fill="#ff0000"/>
<rect x="699" y="335" width="5" height="8" fill="#ff0000"/>
<rect x="700" y="336" width="3" height="6" fill="#ff4500"/>
<rect x="709" y="314" width="1" height="70" fill="#32cd32"/>
<rect x="707" y="335" width="5" height="12" fill="#32cd32"/>
<rect x="708" y="336" width="3" height="10" fill="#32cd32"/>
<rect x="717" y="340" width="1" height="28" fill="#32cd32"/>
<rect x="715" y="346" width="5" height="13" fill="#32cd32"/>
<rect x="716" y="347" width="3" height="11" fill="#32cd32"/>
<rect x="725" y="326" width="1" height="43" fill="#ff0000"/>
<rect x="723" y="344" width="5" height="15" fill="#ff0000"/>
<rect x="724" y="345" width="3" height="13" fill="#ff4500"/>
<rect x="733" y="338" width="1" height="4" fill="#ff0000"/>
<rect x="731" y="339" width="5" height="1" fill="#ff0000"/>
<rect x="741" y="329" width="1" height="28" fill="#32cd32"/>
<rect x="739" y="340" width="5" height="5" fill="#32cd32"/>
<rect x="740" y="341" width="3" height="3" fill="#32cd32"/>
<rect x="749" y="317" width="1" height="30" fill="#ff0000"/>
<rect x="747" y="327" width="5" height="18" fill="#ff0000"/>
<rect x="748" y="328" width="3" height="16" fill="#ff4500"/>
<rect x="757" y="300" width="1" height="43" fill="#32cd32"/>
<rect x="755" y="326" width="5" height="17" fill="#32cd32"/>
<rect x="756" y="327" width="3" height="15" fill="#32cd32"/>
<rect x="765" y="293" width="1" height="50" fill="#ff0000"/>
<rect x="763" y="302" width="5" height="41" fill="#ff0000"/>
<rect x="764" y="303" width="3" height="39" fill="#ff4500"/>
<rect x="773" y="288" width="1" height="24" fill="#ff0000"/>
<rect x="771" y="299" width="5" height="4" fill="#ff0000"/>
<rect x="772" y="300" width="3" height="2" fill="#ff4500"/>
<rect x="781" y="301" width="1" height="7" fill="#32cd32"/>
<rect x="779" y="302" width="5" height="2" fill="#32cd32"/>
<rect x="789" y="296" width="1" height="16" fill="#32cd32"/>
<rect x="787" y="303" width="5" height="6" fill="#32cd32"/>
<rect x="788" y="304" width="3" height="4" fill="#32cd32"/>
<rect x="797" y="285" width="1" height="31" fill="#32cd32"/>
<rect x="795" y="308" width="5" height="4" fill="#32cd32"/>
<rect x="796" y="309" width="3" height="2" fill="#32cd32"/>
<rect x="805" y="275" width="1" height="63" fill="#ff0000"/>
<rect x="803" y="284" width="5" height="28" fill="#ff0000"/>
<rect x="804" y="285" width="3" height="26" fill="#ff4500"/>
<rect x="813" y="226" width="1" height="62" fill="#ff0000"/>
<rect x="811" y="230" width="5" height="55" fill="#ff0000"/>
<rect x="812" y="231" width="3" height="53" fill="#ff4500"/>
<rect x="821" y="222" width="1" height="32" fill="#32cd32"/>
<rect x="819" y="230" width="5" height="20" fill="#32cd32"/>
<rect x="820" y="231" width="3" height="18" fill="#32cd32"/>
<rect x="829" y="251" width="1" height="5" fill="#ff0000"/>
<rect x="827" y="253" width="5" height="3" fill="#ff0000"/>
<rect x="828" y="254" width="3" height="1" fill="#ff4500"/>
<rect x="837" y="248" width="1" height="30" fill="#32cd32"/>
<rect x="835" y="253" width="5" height="17" fill="#32cd32"/>
<rect x="836" y="254" width="3" height="15" fill="#32cd32"/>
<rect x="845" y="241" width="1" height="41" fill="#ff0000"/>
<rect x="843" y="242" width="5" height="29" fill="#ff0000"/>
<rect x="844" y="243" width="3" height="27" fill="#ff4500"/>
<rect x="853" y="213" width="1" height="44" fill="#ff0000"/>
<rect x="851" y="218" width="5" height="25" fill="#ff0000"/>
<rect x="852" y="219" width="3" height="23" fill="#ff4500"/>
<rect x="861" y="200" width="1" height="29" fill="#32cd32"/>
<rect x="859" y="219" width="5" height="3" fill="#32cd32"/>
<rect x="860" y="220" width="3" height="1" fill="#32cd32"/>
<rect x="869" y="192" width="1" height="42" fill="#ff0000"/>
<rect x="867" y="192" width="5" height="31" fill="#ff0000"/>
<rect x="868" y="193" width="3" height="29" fill="#ff4500"/>
<rect x="877" y="195" width="1" height="9" fill="#ff0000"/>
<rect x="875" y="196" width="5" height="8" fill="#ff0000"/>
<rect x="876" y="197" width="3" height="6" fill="#ff4500"/>
<rect x="885" y="169" width="1" height="42" fill="#ff0000"/>
<rect x="883" y="171" width="5" height="26" fill="#ff0000"/>
<rect x="884" y="172" width="3" height="24" fill="#ff4500"/>
<rect x="893" y="148" width="1" height="46" fill="#32cd32"/>
<rect x="891" y="171" width="5" height="14" fill="#32cd32"/>
<rect x="892" y="172" width="3" height="12" fill="#32cd32"/>
<rect x="901" y="166" width="1" height="32" fill="#32cd32"/>
<rect x="899" y="184" width="5" height="9" fill="#32cd32"/>
<rect x="900" y="185" width="3" height="7" fill="#32cd32"/>
<rect x="909" y="184" width="1" height="20" fill="#ff0000"/>
<rect x="907" y="191" width="5" height="2" fill="#ff0000"/>
<rect x="917" y="119" width="1" height="74" fill="#ff0000"/>
<rect x="915" y="127" width="5" height="65" fill="#ff0000"/>
<rect x="916" y="128" width="3" height="63" fill="#ff4500"/>
</g>
<g shape-rendering="crispEdges">
<rect x="4" y="73" width="6" height="6" fill="#ff0000"/>
<rect x="6" y="75" width="2" height="2" fill="#fff"/>
<rect x="1161" y="73" width="6" height="6" fill="#ff0000"/>
<rect x="1163" y="75" width="2" height="2" fill="#fff"/>
<rect x="4" y="141" width="6" height="6" fill="#ff0000"/>
<rect x="6" y="143" width="2" height="2" fill="#fff"/>
<rect x="1161" y="141" width="6" height="6" fill="#ff0000"/>
<rect x="1163" y="143" width="2" height="2" fill="#fff"/>
<rect x="4" y="210" width="6" height="6" fill="#00ff00"/>
<rect x="6" y="212" width="2" height="2" fill="#fff"/>
<rect x="1161" y="210" width="6" height="6" fill="#00ff00"/>
<rect x="1163" y="212" width="2" height="2" fill="#fff"/>
<rect x="4" y="273" width="6" height="6" fill="#0000ff"/>
<rect x="6" y="275" width="2" height="2" fill="#fff"/>
<rect x="1161" y="273" width="6" height="6" fill="#0000ff"/>
<rect x="1163" y="275" width="2" height="2" fill="#fff"/>
<rect x="4" y="337" width="6" height="6" fill="#0000ff"/>
<rect x="6" y="339" width="2" height="2" fill="#fff"/>
<rect x="1161" y="337" width="6" height="6" fill="#0000ff"/>
<rect x="1163" y="339" width="2" height="2" fill="#fff"/>
<rect x="4" y="393" width="6" height="6" fill="#0000ff"/>
<rect x="6" y="395" width="2" height="2" fill="#fff"/>
<rect x="1161" y="393" width="6" height="6" fill="#0000ff"/>
<rect x="1163" y="395" width="2" height="2" fill="#fff"/>
<rect x="4" y="21" width="1164" height="1" fill="#000"/>
<rect x="4" y="399" width="1164" height="1" fill="#000"/>
<rect x="4" y="21" width="1" height="379" fill="#000"/>
<rect x="1167" y="21" width="1" height="379" fill="#000"/>
<rect x="4" y="401" width="1164" height="1" fill="#000"/>
<rect x="4" y="470" width="1164" height="1" fill="#000"/>
<rect x="4" y="401" width="1" height="70" fill="#000"/>
<rect x="1167" y="401" width="1" height="70" fill="#000"/>
<rect x="4" y="472" width="1164" height="1" fill="#000"/>
<rect x="4" y="544" width="1164" height="1" fill="#000"/>
<rect x="4" y="472" width="1" height="73" fill="#000"/>
<rect x="1167" y="472" width="1" height="73" fill="#000"/>
<rect x="4" y="73" width="6" height="6" fill="#ff0000"/>
<rect x="6" y="75" width="2" height="2" fill="#fff"/>
<rect x="4" y="141" width="6" height="6" fill="#ff0000"/>
<rect x="6" y="143" width="2" height="2" fill="#fff"/>
<rect x="4" y="210" width="6" height="6" fill="#00ff00"/>
<rect x="6" y="212" width="2" height="2" fill="#fff"/>
<rect x="4" y="273" width="6" height="6" fill="#0000ff"/>
<rect x="6" y="275" width="2" height="2" fill="#fff"/>
<rect x="4" y="337" width="6" height="6" fill="#0000ff"/>
<rect x="6" y="339" width="2" height="2" fill="#fff"/>
<rect x="4" y="393" width="6" height="6" fill="#0000ff"/>
<rect x="6" y="395" width="2" height="2" fill="#fff"/>
<rect x="1168" y="33" width="2" height="1" fill="#000"/>
<rect x="1168" y="66" width="2" height="1" fill="#000"/>
<rect x="1168" y="99" width="2" height="1" fill="#000"/>
<rect x="1168" y="132" width="2" height="1" fill="#000"/>
<rect x="1168" y="165" width="2" height="1" fill="#000"/>
<rect x="1168" y="198" width="2" height="1" fill="#000"/>
<rect x="1168" y="231" width="2" height="1" fill="#000"/>
<rect x="1168" y="264" width="2" height="1" fill="#000"/>
<rect x="1168" y="297" width="2" height="1" fill="#000"/>
<rect x="1168" y="330" width="2" height="1" fill="#000"/>
<rect x="1168" y="363" width="2" height="1" fill="#000"/>
</g>
<text x="1173.3" y="37" font-size="10.2" fill="#000" stroke="#000" stroke-width="0.2" textLength="32.9" lengthAdjust="spacingAndGlyphs" >1.29615</text>
<text x="1173.3" y="70" font-size="10.2" fill="#000" stroke="#000" stroke-width="0.2" textLength="32.9" lengthAdjust="spacingAndGlyphs" >1.28985</text>
<text x="1173.3" y="103" font-size="10.2" fill="#000" stroke="#000" stroke-width="0.2" textLength="32.9" lengthAdjust="spacingAndGlyphs" >1.28355</text>
<text x="1173.3" y="136" font-size="10.2" fill="#000" stroke="#000" stroke-width="0.2" textLength="32.9" lengthAdjust="spacingAndGlyphs" >1.27740</text>
<text x="1173.3" y="169" font-size="10.2" fill="#000" stroke="#000" stroke-width="0.2" textLength="32.9" lengthAdjust="spacingAndGlyphs" >1.27110</text>
<text x="1173.3" y="202" font-size="10.2" fill="#000" stroke="#000" stroke-width="0.2" textLength="32.9" lengthAdjust="spacingAndGlyphs" >1.26495</text>
<text x="1173.3" y="235" font-size="10.2" fill="#000" stroke="#000" stroke-width="0.2" textLength="32.9" lengthAdjust="spacingAndGlyphs" >1.25865</text>
<text x="1173.3" y="268" font-size="10.2" fill="#000" stroke="#000" stroke-width="0.2" textLength="32.9" lengthAdjust="spacingAndGlyphs" >1.25235</text>
<text x="1173.3" y="301" font-size="10.2" fill="#000" stroke="#000" stroke-width="0.2" textLength="32.9" lengthAdjust="spacingAndGlyphs" >1.24620</text>
<text x="1173.3" y="334" font-size="10.2" fill="#000" stroke="#000" stroke-width="0.2" textLength="32.9" lengthAdjust="spacingAndGlyphs" >1.23990</text>
<text x="1173.3" y="367" font-size="10.2" fill="#000" stroke="#000" stroke-width="0.2" textLength="32.9" lengthAdjust="spacingAndGlyphs" >1.23375</text>
<rect x="1169" y="122" width="39" height="10" fill="#000" shape-rendering="crispEdges"/>
<text x="1173.3" y="131" font-size="10.2" fill="#fff" stroke="#fff" stroke-width="0.2" textLength="32.9" lengthAdjust="spacingAndGlyphs" >1.27832</text>
<rect x="1169" y="70" width="39" height="11" fill="#ff0000" shape-rendering="crispEdges"/>
<text x="1173.3" y="79" font-size="10.2" fill="#fff" stroke="#fff" stroke-width="0.2" textLength="32.9" lengthAdjust="spacingAndGlyphs" >1.28792</text>
<rect x="1169" y="138" width="39" height="11" fill="#ff0000" shape-rendering="crispEdges"/>
<text x="1173.3" y="147" font-size="10.2" fill="#fff" stroke="#fff" stroke-width="0.2" textLength="32.9" lengthAdjust="spacingAndGlyphs" >1.27519</text>
<rect x="1169" y="207" width="39" height="11" fill="#00ff00" shape-rendering="crispEdges"/>
<text x="1173.3" y="216" font-size="10.2" fill="#fff" stroke="#fff" stroke-width="0.2" textLength="32.9" lengthAdjust="spacingAndGlyphs" >1.26204</text>
<rect x="1169" y="270" width="39" height="11" fill="#0000ff" shape-rendering="crispEdges"/>
<text x="1173.3" y="279" font-size="10.2" fill="#fff" stroke="#fff" stroke-width="0.2" textLength="32.9" lengthAdjust="spacingAndGlyphs" >1.25008</text>
<rect x="1169" y="334" width="39" height="11" fill="#0000ff" shape-rendering="crispEdges"/>
<text x="1173.3" y="343" font-size="10.2" fill="#fff" stroke="#fff" stroke-width="0.2" textLength="32.9" lengthAdjust="spacingAndGlyphs" >1.23812</text>
<rect x="1169" y="390" width="39" height="11" fill="#0000ff" shape-rendering="crispEdges"/>
<text x="1173.3" y="399" font-size="10.2" fill="#fff" stroke="#fff" stroke-width="0.2" textLength="32.9" lengthAdjust="spacingAndGlyphs" >1.22751</text>
<path d="M7.9 32.2 L11.7 27.5 L15.5 32.2 Z" fill="#000"/>
<text x="20.4" y="32.9" font-size="10.2" fill="#000" stroke="#000" stroke-width="0.2" textLength="67.5" lengthAdjust="spacingAndGlyphs" >USDCAD-,Daily</text>
<text x="95.2" y="32.9" font-size="10.2" fill="#000" stroke="#000" stroke-width="0.2" textLength="140.4" lengthAdjust="spacingAndGlyphs" >1.26627 1.27987 1.26600 1.27832</text>
<g shape-rendering="crispEdges">
<rect x="6" y="39" width="223" height="61" fill="#fff"/>
<rect x="8" y="41" width="52" height="25" fill="#0000a4"/>
<rect x="175" y="41" width="52" height="25" fill="#0000a4"/>
<rect x="8" y="65" width="109" height="33" fill="#0000a4"/>
<rect x="119" y="65" width="108" height="33" fill="#0000a4"/>
<rect x="9" y="42" width="50" height="24" fill="url(#gb1)"/>
<rect x="176" y="42" width="50" height="24" fill="url(#gb1)"/>
<rect x="9" y="66" width="107" height="31" fill="url(#gb2)"/>
<rect x="120" y="66" width="106" height="31" fill="url(#gb2)"/>
<rect x="12" y="64" width="44" height="1" fill="#000080"/>
<rect x="12" y="65" width="44" height="1" fill="#7272ff"/>
<rect x="179" y="64" width="44" height="1" fill="#000080"/>
<rect x="179" y="65" width="44" height="1" fill="#7272ff"/>
<rect x="62" y="41" width="111" height="22" fill="#a9a9b1"/>
<rect x="63" y="42" width="109" height="20" fill="#fff"/>
<rect x="83" y="42" width="1" height="20" fill="#a9a9b1"/>
<rect x="151" y="42" width="1" height="20" fill="#a9a9b1"/>
<rect x="64" y="43" width="18" height="18" fill="url(#gbtn)"/>
<rect x="153" y="43" width="18" height="18" fill="url(#gbtn)"/>
</g>
<path d="M69.9 49.9 L75.3 49.9 L72.6 53.3 Z" fill="#3c50c0"/>
<path d="M158.9 53.2 L164.3 53.2 L161.6 49.8 Z" fill="#3c50c0"/>
<text x="124.4" y="55.9" font-size="12.7" fill="#000" textLength="23.8" lengthAdjust="spacingAndGlyphs" >3.00</text>
<text x="20.4" y="57.0" font-size="12.9" fill="#fff" textLength="25.9" lengthAdjust="spacingAndGlyphs" >SELL</text>
<text x="188.2" y="57.0" font-size="12.9" fill="#fff" textLength="23.2" lengthAdjust="spacingAndGlyphs" >BUY</text>
<text x="28.7" y="93" font-size="12.8" fill="#fff" textLength="23.2" lengthAdjust="spacingAndGlyphs" font-weight="700" >1.27</text>
<text x="56.0" y="93.4" font-size="35.4" fill="#fff" textLength="33.8" lengthAdjust="spacingAndGlyphs" stroke="url(#gb2)" stroke-width="0.45">83</text>
<text x="95.3" y="76.9" font-size="11.5" fill="#fff" textLength="6.7" lengthAdjust="spacingAndGlyphs" font-weight="700" >2</text>
<text x="139.0" y="93" font-size="12.8" fill="#fff" textLength="23.2" lengthAdjust="spacingAndGlyphs" font-weight="700" >1.27</text>
<text x="166.6" y="93.4" font-size="35.4" fill="#fff" textLength="33.6" lengthAdjust="spacingAndGlyphs" stroke="url(#gb2)" stroke-width="0.45">87</text>
<text x="207.1" y="76.9" font-size="11.5" fill="#fff" textLength="6.7" lengthAdjust="spacingAndGlyphs" font-weight="700" >6</text>
<g shape-rendering="crispEdges">
<rect x="4" y="412" width="3" height="27" fill="#c0c0c0"/>
<rect x="12" y="411" width="3" height="28" fill="#c0c0c0"/>
<rect x="20" y="408" width="3" height="31" fill="#c0c0c0"/>
<rect x="28" y="407" width="3" height="32" fill="#c0c0c0"/>
<rect x="36" y="408" width="3" height="31" fill="#c0c0c0"/>
<rect x="44" y="410" width="3" height="29" fill="#c0c0c0"/>
<rect x="52" y="412" width="3" height="27" fill="#c0c0c0"/>
<rect x="60" y="413" width="3" height="26" fill="#c0c0c0"/>
<rect x="68" y="417" width="3" height="22" fill="#c0c0c0"/>
<rect x="76" y="418" width="3" height="21" fill="#c0c0c0"/>
<rect x="84" y="421" width="3" height="18" fill="#c0c0c0"/>
<rect x="92" y="425" width="3" height="14" fill="#c0c0c0"/>
<rect x="100" y="428" width="3" height="11" fill="#c0c0c0"/>
<rect x="108" y="430" width="3" height="9" fill="#c0c0c0"/>
<rect x="116" y="432" width="3" height="7" fill="#c0c0c0"/>
<rect x="124" y="432" width="3" height="7" fill="#c0c0c0"/>
<rect x="132" y="432" width="3" height="7" fill="#c0c0c0"/>
<rect x="140" y="433" width="3" height="6" fill="#c0c0c0"/>
<rect x="148" y="433" width="3" height="6" fill="#c0c0c0"/>
<rect x="156" y="432" width="3" height="7" fill="#c0c0c0"/>
<rect x="164" y="432" width="3" height="7" fill="#c0c0c0"/>
<rect x="172" y="433" width="3" height="6" fill="#c0c0c0"/>
<rect x="180" y="434" width="3" height="5" fill="#c0c0c0"/>
<rect x="188" y="434" width="3" height="5" fill="#c0c0c0"/>
<rect x="196" y="435" width="3" height="4" fill="#c0c0c0"/>
<rect x="204" y="436" width="3" height="3" fill="#c0c0c0"/>
<rect x="212" y="434" width="3" height="5" fill="#c0c0c0"/>
<rect x="220" y="432" width="3" height="7" fill="#c0c0c0"/>
<rect x="228" y="430" width="3" height="9" fill="#c0c0c0"/>
<rect x="236" y="424" width="3" height="15" fill="#c0c0c0"/>
<rect x="244" y="418" width="3" height="21" fill="#c0c0c0"/>
<rect x="252" y="415" width="3" height="24" fill="#c0c0c0"/>
<rect x="260" y="417" width="3" height="22" fill="#c0c0c0"/>
<rect x="268" y="421" width="3" height="18" fill="#c0c0c0"/>
<rect x="276" y="423" width="3" height="16" fill="#c0c0c0"/>
<rect x="284" y="424" width="3" height="15" fill="#c0c0c0"/>
<rect x="292" y="426" width="3" height="13" fill="#c0c0c0"/>
<rect x="300" y="428" width="3" height="11" fill="#c0c0c0"/>
<rect x="308" y="430" width="3" height="9" fill="#c0c0c0"/>
<rect x="316" y="431" width="3" height="8" fill="#c0c0c0"/>
<rect x="324" y="432" width="3" height="7" fill="#c0c0c0"/>
<rect x="332" y="435" width="3" height="4" fill="#c0c0c0"/>
<rect x="340" y="438" width="3" height="1" fill="#c0c0c0"/>
<rect x="348" y="439" width="3" height="2" fill="#c0c0c0"/>
<rect x="356" y="439" width="3" height="3" fill="#c0c0c0"/>
<rect x="364" y="439" width="3" height="2" fill="#c0c0c0"/>
<rect x="372" y="436" width="3" height="3" fill="#c0c0c0"/>
<rect x="380" y="435" width="3" height="4" fill="#c0c0c0"/>
<rect x="388" y="435" width="3" height="4" fill="#c0c0c0"/>
<rect x="396" y="433" width="3" height="6" fill="#c0c0c0"/>
<rect x="404" y="433" width="3" height="6" fill="#c0c0c0"/>
<rect x="412" y="432" width="3" height="7" fill="#c0c0c0"/>
<rect x="420" y="434" width="3" height="5" fill="#c0c0c0"/>
<rect x="428" y="433" width="3" height="6" fill="#c0c0c0"/>
<rect x="436" y="431" width="3" height="8" fill="#c0c0c0"/>
<rect x="444" y="428" width="3" height="11" fill="#c0c0c0"/>
<rect x="452" y="426" width="3" height="13" fill="#c0c0c0"/>
<rect x="460" y="424" width="3" height="15" fill="#c0c0c0"/>
<rect x="468" y="423" width="3" height="16" fill="#c0c0c0"/>
<rect x="476" y="426" width="3" height="13" fill="#c0c0c0"/>
<rect x="484" y="429" width="3" height="10" fill="#c0c0c0"/>
<rect x="492" y="431" width="3" height="8" fill="#c0c0c0"/>
<rect x="500" y="433" width="3" height="6" fill="#c0c0c0"/>
<rect x="508" y="434" width="3" height="5" fill="#c0c0c0"/>
<rect x="516" y="433" width="3" height="6" fill="#c0c0c0"/>
<rect x="524" y="433" width="3" height="6" fill="#c0c0c0"/>
<rect x="532" y="435" width="3" height="4" fill="#c0c0c0"/>
<rect x="540" y="437" width="3" height="2" fill="#c0c0c0"/>
<rect x="548" y="439" width="3" height="2" fill="#c0c0c0"/>
<rect x="556" y="439" width="3" height="4" fill="#c0c0c0"/>
<rect x="564" y="439" width="3" height="5" fill="#c0c0c0"/>
<rect x="572" y="439" width="3" height="8" fill="#c0c0c0"/>
<rect x="580" y="439" width="3" height="12" fill="#c0c0c0"/>
<rect x="588" y="439" width="3" height="14" fill="#c0c0c0"/>
<rect x="596" y="439" width="3" height="16" fill="#c0c0c0"/>
<rect x="604" y="439" width="3" height="17" fill="#c0c0c0"/>
<rect x="612" y="439" width="3" height="19" fill="#c0c0c0"/>
<rect x="620" y="439" width="3" height="22" fill="#c0c0c0"/>
<rect x="628" y="439" width="3" height="24" fill="#c0c0c0"/>
<rect x="636" y="439" width="3" height="25" fill="#c0c0c0"/>
<rect x="644" y="439" width="3" height="26" fill="#c0c0c0"/>
<rect x="652" y="439" width="3" height="27" fill="#c0c0c0"/>
<rect x="660" y="439" width="3" height="28" fill="#c0c0c0"/>
<rect x="668" y="439" width="3" height="28" fill="#c0c0c0"/>
<rect x="676" y="439" width="3" height="27" fill="#c0c0c0"/>
<rect x="684" y="439" width="3" height="26" fill="#c0c0c0"/>
<rect x="692" y="439" width="3" height="25" fill="#c0c0c0"/>
<rect x="700" y="439" width="3" height="24" fill="#c0c0c0"/>
<rect x="708" y="439" width="3" height="23" fill="#c0c0c0"/>
<rect x="716" y="439" width="3" height="22" fill="#c0c0c0"/>
<rect x="724" y="439" width="3" height="21" fill="#c0c0c0"/>
<rect x="732" y="439" width="3" height="20" fill="#c0c0c0"/>
<rect x="740" y="439" width="3" height="19" fill="#c0c0c0"/>
<rect x="748" y="439" width="3" height="17" fill="#c0c0c0"/>
<rect x="756" y="439" width="3" height="16" fill="#c0c0c0"/>
<rect x="764" y="439" width="3" height="13" fill="#c0c0c0"/>
<rect x="772" y="439" width="3" height="10" fill="#c0c0c0"/>
<rect x="780" y="439" width="3" height="8" fill="#c0c0c0"/>
<rect x="788" y="439" width="3" height="7" fill="#c0c0c0"/>
<rect x="796" y="439" width="3" height="6" fill="#c0c0c0"/>
<rect x="804" y="439" width="3" height="4" fill="#c0c0c0"/>
<rect x="812" y="437" width="3" height="2" fill="#c0c0c0"/>
<rect x="820" y="435" width="3" height="4" fill="#c0c0c0"/>
<rect x="828" y="433" width="3" height="6" fill="#c0c0c0"/>
<rect x="836" y="433" width="3" height="6" fill="#c0c0c0"/>
<rect x="844" y="431" width="3" height="8" fill="#c0c0c0"/>
<rect x="852" y="429" width="3" height="10" fill="#c0c0c0"/>
<rect x="860" y="427" width="3" height="12" fill="#c0c0c0"/>
<rect x="868" y="424" width="3" height="15" fill="#c0c0c0"/>
<rect x="876" y="423" width="3" height="16" fill="#c0c0c0"/>
<rect x="884" y="420" width="3" height="19" fill="#c0c0c0"/>
<rect x="892" y="419" width="3" height="20" fill="#c0c0c0"/>
<rect x="900" y="419" width="3" height="20" fill="#c0c0c0"/>
<rect x="908" y="419" width="3" height="20" fill="#c0c0c0"/>
<rect x="916" y="416" width="3" height="23" fill="#c0c0c0"/>
<path d="M31 411.5h42M22 412.5h9M73 412.5h11M17 413.5h5M84 413.5h5M12 414.5h5M89 414.5h4M8 415.5h4M93 415.5h4M5 416.5h3M97 416.5h4M101 417.5h2M103 418.5h3M106 419.5h2M108 420.5h4M112 421.5h5M915 421.5h2M117 422.5h4M292 422.5h16M911 422.5h4M121 423.5h3M281 423.5h11M308 423.5h8M907 423.5h4M124 424.5h4M273 424.5h8M316 424.5h5M901 424.5h6M128 425.5h4M268 425.5h5M321 425.5h4M896 425.5h5M132 426.5h5M263 426.5h5M325 426.5h4M892 426.5h4M137 427.5h5M258 427.5h5M329 427.5h4M887 427.5h5M142 428.5h5M253 428.5h5M333 428.5h4M471 428.5h46M883 428.5h4M147 429.5h5M248 429.5h5M337 429.5h5M466 429.5h5M517 429.5h8M879 429.5h4M152 430.5h4M244 430.5h4M342 430.5h5M460 430.5h6M525 430.5h7M876 430.5h3M156 431.5h10M241 431.5h3M347 431.5h5M455 431.5h5M532 431.5h5M872 431.5h4M166 432.5h15M237 432.5h4M352 432.5h5M449 432.5h6M537 432.5h6M869 432.5h3M181 433.5h27M230 433.5h7M357 433.5h4M442 433.5h7M543 433.5h5M867 433.5h2M208 434.5h22M361 434.5h3M433 434.5h9M548 434.5h5M864 434.5h3M364 435.5h4M423 435.5h10M553 435.5h6M862 435.5h2M368 436.5h6M411 436.5h12M559 436.5h6M856 436.5h6M374 437.5h37M565 437.5h6M848 437.5h8M571 438.5h5M842 438.5h6M576 439.5h4M838 439.5h4M580 440.5h4M834 440.5h4M584 441.5h4M830 441.5h4M588 442.5h3M827 442.5h3M591 443.5h2M824 443.5h3M593 444.5h4M821 444.5h3M597 445.5h5M818 445.5h3M602 446.5h4M815 446.5h3M606 447.5h3M811 447.5h4M609 448.5h4M806 448.5h5M613 449.5h3M801 449.5h5M616 450.5h3M796 450.5h5M619 451.5h4M791 451.5h5M623 452.5h4M786 452.5h5M627 453.5h5M781 453.5h5M632 454.5h5M776 454.5h5M637 455.5h5M771 455.5h5M642 456.5h4M766 456.5h5M646 457.5h3M761 457.5h5M649 458.5h4M756 458.5h5M653 459.5h4M750 459.5h6M657 460.5h5M742 460.5h8M662 461.5h7M736 461.5h6M669 462.5h8M732 462.5h4M677 463.5h5M725 463.5h7M682 464.5h43" fill="none" stroke="#ff0000" stroke-width="1" shape-rendering="crispEdges"/>
<rect x="4" y="401" width="1164" height="1" fill="#000"/>
<rect x="4" y="470" width="1164" height="1" fill="#000"/>
<rect x="4" y="401" width="1" height="70" fill="#000"/>
<rect x="1167" y="401" width="1" height="70" fill="#000"/>
<rect x="1168" y="402" width="2" height="1" fill="#000"/>
<rect x="1168" y="439" width="2" height="1" fill="#000"/>
<rect x="1168" y="469" width="2" height="1" fill="#000"/>
</g>
<text x="9.2" y="413.8" font-size="10.2" fill="#000" stroke="#000" stroke-width="0.2" textLength="147.2" lengthAdjust="spacingAndGlyphs" >MACD(12,26,9) 0.006829 0.005139</text>
<text x="1171.2" y="412" font-size="10.2" fill="#000" stroke="#000" stroke-width="0.2" textLength="37.4" lengthAdjust="spacingAndGlyphs" >0.010869</text>
<text x="1171.2" y="443" font-size="10.2" fill="#000" stroke="#000" stroke-width="0.2" textLength="17.6" lengthAdjust="spacingAndGlyphs" >0.00</text>
<text x="1171.2" y="467" font-size="10.2" fill="#000" stroke="#000" stroke-width="0.2" textLength="39.7" lengthAdjust="spacingAndGlyphs" >-0.008974</text>
<g shape-rendering="crispEdges">
<line x1="6" y1="494.5" x2="1167" y2="494.5" stroke="#c0c0c0" stroke-width="1" stroke-dasharray="3 3"/>
<line x1="6" y1="522.5" x2="1167" y2="522.5" stroke="#c0c0c0" stroke-width="1" stroke-dasharray="3 3"/>
<path d="M21 490.5h1M19 491.5h2M22 491.5h1M237 491.5h10M17 492.5h2M23 492.5h1M236 492.5h1M247 492.5h4M15 493.5h2M24 493.5h1M234 493.5h2M251 493.5h2M916 493.5h1M10 494.5h5M25 494.5h2M233 494.5h1M253 494.5h1M869 494.5h3M883 494.5h4M914 494.5h2M5 495.5h5M27 495.5h1M232 495.5h1M253 495.5h1M813 495.5h1M867 495.5h2M872 495.5h2M878 495.5h5M887 495.5h2M913 495.5h1M28 496.5h1M230 496.5h2M254 496.5h1M812 496.5h1M814 496.5h2M865 496.5h2M874 496.5h4M889 496.5h3M912 496.5h1M29 497.5h1M229 497.5h1M254 497.5h1M811 497.5h1M816 497.5h2M863 497.5h2M892 497.5h5M910 497.5h2M30 498.5h1M227 498.5h2M255 498.5h1M458 498.5h5M810 498.5h1M818 498.5h2M852 498.5h11M897 498.5h13M31 499.5h2M223 499.5h4M256 499.5h1M452 499.5h6M463 499.5h2M808 499.5h2M820 499.5h2M848 499.5h4M33 500.5h1M220 500.5h3M256 500.5h1M448 500.5h4M465 500.5h2M807 500.5h1M822 500.5h4M845 500.5h3M34 501.5h1M218 501.5h2M257 501.5h1M442 501.5h6M467 501.5h2M806 501.5h1M826 501.5h4M843 501.5h2M35 502.5h2M216 502.5h2M258 502.5h1M436 502.5h6M469 502.5h1M805 502.5h1M830 502.5h3M841 502.5h2M37 503.5h4M49 503.5h15M76 503.5h3M214 503.5h2M258 503.5h1M370 503.5h5M434 503.5h2M470 503.5h1M517 503.5h1M804 503.5h1M833 503.5h3M839 503.5h2M41 504.5h8M64 504.5h4M72 504.5h4M79 504.5h2M153 504.5h13M212 504.5h2M259 504.5h1M285 504.5h1M365 504.5h5M375 504.5h4M394 504.5h5M411 504.5h2M431 504.5h3M471 504.5h1M515 504.5h2M518 504.5h2M803 504.5h1M836 504.5h3M68 505.5h4M81 505.5h3M148 505.5h5M166 505.5h2M210 505.5h2M259 505.5h1M283 505.5h2M286 505.5h2M364 505.5h1M379 505.5h15M399 505.5h4M407 505.5h4M413 505.5h2M429 505.5h2M472 505.5h2M514 505.5h1M520 505.5h2M801 505.5h2M84 506.5h2M122 506.5h14M146 506.5h2M168 506.5h2M208 506.5h2M260 506.5h2M281 506.5h2M288 506.5h2M363 506.5h1M403 506.5h4M415 506.5h2M427 506.5h2M474 506.5h1M512 506.5h2M522 506.5h2M769 506.5h8M800 506.5h1M86 507.5h2M117 507.5h5M136 507.5h4M143 507.5h3M170 507.5h2M206 507.5h2M262 507.5h3M279 507.5h2M290 507.5h2M362 507.5h1M417 507.5h2M425 507.5h2M475 507.5h1M510 507.5h2M524 507.5h2M765 507.5h4M777 507.5h8M799 507.5h1M88 508.5h2M113 508.5h4M140 508.5h3M172 508.5h5M185 508.5h21M265 508.5h3M277 508.5h2M292 508.5h35M361 508.5h1M419 508.5h2M423 508.5h2M476 508.5h1M508 508.5h2M526 508.5h2M764 508.5h1M785 508.5h7M797 508.5h2M90 509.5h2M106 509.5h7M177 509.5h8M268 509.5h9M327 509.5h2M360 509.5h1M421 509.5h2M477 509.5h13M506 509.5h2M528 509.5h2M763 509.5h1M792 509.5h5M92 510.5h2M98 510.5h8M329 510.5h2M359 510.5h1M490 510.5h7M503 510.5h3M530 510.5h2M762 510.5h1M94 511.5h4M331 511.5h2M358 511.5h1M497 511.5h6M532 511.5h12M760 511.5h2M333 512.5h3M354 512.5h4M544 512.5h4M748 512.5h2M759 512.5h1M336 513.5h4M346 513.5h8M548 513.5h5M561 513.5h5M746 513.5h2M750 513.5h2M758 513.5h1M340 514.5h6M553 514.5h8M566 514.5h3M744 514.5h2M752 514.5h3M757 514.5h1M569 515.5h3M729 515.5h7M742 515.5h2M755 515.5h2M572 516.5h2M724 516.5h5M736 516.5h6M574 517.5h2M696 517.5h13M722 517.5h2M576 518.5h2M587 518.5h21M688 518.5h8M709 518.5h3M720 518.5h2M578 519.5h2M583 519.5h4M608 519.5h4M682 519.5h6M712 519.5h3M718 519.5h2M580 520.5h3M612 520.5h3M668 520.5h14M715 520.5h3M615 521.5h2M666 521.5h2M617 522.5h3M625 522.5h7M665 522.5h1M620 523.5h5M632 523.5h19M663 523.5h2M651 524.5h5M661 524.5h2M656 525.5h5" fill="none" stroke="#1e90ff" stroke-width="1" shape-rendering="crispEdges"/>
<rect x="4" y="472" width="1164" height="1" fill="#000"/>
<rect x="4" y="544" width="1164" height="1" fill="#000"/>
<rect x="4" y="472" width="1" height="73" fill="#000"/>
<rect x="1167" y="472" width="1" height="73" fill="#000"/>
<rect x="1168" y="473" width="2" height="1" fill="#000"/>
<rect x="1168" y="543" width="2" height="1" fill="#000"/>
</g>
<text x="9.2" y="485" font-size="10.2" fill="#000" stroke="#000" stroke-width="0.2" textLength="67.8" lengthAdjust="spacingAndGlyphs" >RSI(14) 73.7752</text>
<text x="1170.7" y="483" font-size="10.2" fill="#000" stroke="#000" stroke-width="0.2" textLength="14.6" lengthAdjust="spacingAndGlyphs" >100</text>
<text x="1170.7" y="498" font-size="10.2" fill="#000" stroke="#000" stroke-width="0.2" textLength="9.7" lengthAdjust="spacingAndGlyphs" >70</text>
<text x="1170.7" y="526" font-size="10.2" fill="#000" stroke="#000" stroke-width="0.2" textLength="9.7" lengthAdjust="spacingAndGlyphs" >30</text>
<text x="1170.7" y="541" font-size="10.2" fill="#000" stroke="#000" stroke-width="0.2" textLength="4.9" lengthAdjust="spacingAndGlyphs" >0</text>
<rect x="5" y="545" width="1" height="3" fill="#000" shape-rendering="crispEdges"/>
<text x="4.4" y="557" font-size="10.2" fill="#000" stroke="#000" stroke-width="0.2" textLength="46.9" lengthAdjust="spacingAndGlyphs" >16 Jul 2021</text>
<rect x="69" y="545" width="1" height="3" fill="#000" shape-rendering="crispEdges"/>
<text x="68.4" y="557" font-size="10.2" fill="#000" stroke="#000" stroke-width="0.2" textLength="46.9" lengthAdjust="spacingAndGlyphs" >26 Jul 2021</text>
<rect x="133" y="545" width="1" height="3" fill="#000" shape-rendering="crispEdges"/>
<text x="132.4" y="557" font-size="10.2" fill="#000" stroke="#000" stroke-width="0.2" textLength="47.9" lengthAdjust="spacingAndGlyphs" >4 Aug 2021</text>
<rect x="197" y="545" width="1" height="3" fill="#000" shape-rendering="crispEdges"/>
<text x="196.4" y="557" font-size="10.2" fill="#000" stroke="#000" stroke-width="0.2" textLength="53.2" lengthAdjust="spacingAndGlyphs" >13 Aug 2021</text>
<rect x="261" y="545" width="1" height="3" fill="#000" shape-rendering="crispEdges"/>
<text x="260.4" y="557" font-size="10.2" fill="#000" stroke="#000" stroke-width="0.2" textLength="53.2" lengthAdjust="spacingAndGlyphs" >23 Aug 2021</text>
<rect x="325" y="545" width="1" height="3" fill="#000" shape-rendering="crispEdges"/>
<text x="324.4" y="557" font-size="10.2" fill="#000" stroke="#000" stroke-width="0.2" textLength="47.4" lengthAdjust="spacingAndGlyphs" >1 Sep 2021</text>
<rect x="389" y="545" width="1" height="3" fill="#000" shape-rendering="crispEdges"/>
<text x="388.4" y="557" font-size="10.2" fill="#000" stroke="#000" stroke-width="0.2" textLength="52.5" lengthAdjust="spacingAndGlyphs" >10 Sep 2021</text>
<rect x="453" y="545" width="1" height="3" fill="#000" shape-rendering="crispEdges"/>
<text x="452.4" y="557" font-size="10.2" fill="#000" stroke="#000" stroke-width="0.2" textLength="52.5" lengthAdjust="spacingAndGlyphs" >20 Sep 2021</text>
<rect x="517" y="545" width="1" height="3" fill="#000" shape-rendering="crispEdges"/>
<text x="516.4" y="557" font-size="10.2" fill="#000" stroke="#000" stroke-width="0.2" textLength="52.5" lengthAdjust="spacingAndGlyphs" >29 Sep 2021</text>
<rect x="581" y="545" width="1" height="3" fill="#000" shape-rendering="crispEdges"/>
<text x="580.4" y="557" font-size="10.2" fill="#000" stroke="#000" stroke-width="0.2" textLength="45.8" lengthAdjust="spacingAndGlyphs" >8 Oct 2021</text>
<rect x="645" y="545" width="1" height="3" fill="#000" shape-rendering="crispEdges"/>
<text x="644.4" y="557" font-size="10.2" fill="#000" stroke="#000" stroke-width="0.2" textLength="51.0" lengthAdjust="spacingAndGlyphs" >18 Oct 2021</text>
<rect x="709" y="545" width="1" height="3" fill="#000" shape-rendering="crispEdges"/>
<text x="708.4" y="557" font-size="10.2" fill="#000" stroke="#000" stroke-width="0.2" textLength="51.0" lengthAdjust="spacingAndGlyphs" >27 Oct 2021</text>
<rect x="773" y="545" width="1" height="3" fill="#000" shape-rendering="crispEdges"/>
<text x="772.4" y="557" font-size="10.2" fill="#000" stroke="#000" stroke-width="0.2" textLength="48.4" lengthAdjust="spacingAndGlyphs" >5 Nov 2021</text>
<rect x="837" y="545" width="1" height="3" fill="#000" shape-rendering="crispEdges"/>
<text x="836.4" y="557" font-size="10.2" fill="#000" stroke="#000" stroke-width="0.2" textLength="53.6" lengthAdjust="spacingAndGlyphs" >15 Nov 2021</text>
<rect x="901" y="545" width="1" height="3" fill="#000" shape-rendering="crispEdges"/>
<text x="900.4" y="557" font-size="10.2" fill="#000" stroke="#000" stroke-width="0.2" textLength="53.6" lengthAdjust="spacingAndGlyphs" >24 Nov 2021</text>
<g shape-rendering="crispEdges">
<rect x="0" y="565" width="1208" height="1" fill="#dcdcdc"/>
<rect x="0" y="566" width="1208" height="1" fill="#fff"/>
<rect x="0" y="567" width="1208" height="1" fill="#000"/>
<rect x="0" y="568" width="1208" height="19" fill="#f0f0f0"/>
<rect x="2" y="568" width="1206" height="1" fill="#fafafa"/>
<rect x="0" y="587" width="1208" height="4" fill="#fafafa"/>
<rect x="0" y="591" width="1208" height="1" fill="#b4b4b4"/>
<rect x="0" y="592" width="1208" height="1" fill="#ececec"/>
<rect x="0" y="568" width="1" height="18" fill="#a0a0a0"/>
<rect x="1" y="568" width="1" height="18" fill="#696969"/>
<rect x="0" y="586" width="2" height="1" fill="#a0a0a0"/>
</g>
<g shape-rendering="crispEdges">
<rect x="418" y="567" width="108" height="18" fill="#fff"/>
<rect x="418" y="567" width="1" height="19" fill="#000"/>
<rect x="525" y="567" width="1" height="19" fill="#000"/>
<rect x="418" y="585" width="108" height="1" fill="#000"/>
</g>
<text x="17.4" y="581.8" font-size="12.6" fill="#6e6e6e" textLength="77.2" lengthAdjust="spacingAndGlyphs" >USDX,Weekly</text>
<text x="117.2" y="581.8" font-size="12.6" fill="#6e6e6e" textLength="84.5" lengthAdjust="spacingAndGlyphs" >EURUSD-,Daily</text>
<text x="224.3" y="581.8" font-size="12.6" fill="#6e6e6e" textLength="86.2" lengthAdjust="spacingAndGlyphs" >AUDUSD-,Daily</text>
<text x="334.5" y="581.8" font-size="12.6" fill="#6e6e6e" textLength="70.9" lengthAdjust="spacingAndGlyphs" >USDCHF-,H4</text>
<text x="538.4" y="581.8" font-size="12.6" fill="#6e6e6e" textLength="87.6" lengthAdjust="spacingAndGlyphs" >USDCNH-,Daily</text>
<text x="648.6" y="581.8" font-size="12.6" fill="#6e6e6e" textLength="86.2" lengthAdjust="spacingAndGlyphs" >XAUUSD-,Daily</text>
<text x="757.4" y="581.8" font-size="12.6" fill="#6e6e6e" textLength="56.4" lengthAdjust="spacingAndGlyphs" >UKOil-,H1</text>
<text x="837.4" y="581.8" font-size="12.6" fill="#6e6e6e" textLength="77.5" lengthAdjust="spacingAndGlyphs" >DJ30-,Weekly</text>
<text x="937.5" y="581.8" font-size="12.6" fill="#6e6e6e" textLength="73" lengthAdjust="spacingAndGlyphs" >UK100-,Daily</text>
<text x="429.5" y="581.8" font-size="12.6" fill="#000" textLength="85.2" lengthAdjust="spacingAndGlyphs" >USDCAD-,Daily</text>
<line x1="106.4" y1="570.3" x2="106.4" y2="583.6" stroke="#5a5a5a" stroke-width="1"/>
<line x1="214.5" y1="570.3" x2="214.5" y2="583.6" stroke="#5a5a5a" stroke-width="1"/>
<line x1="322.7" y1="570.3" x2="322.7" y2="583.6" stroke="#5a5a5a" stroke-width="1"/>
<line x1="638" y1="570.3" x2="638" y2="583.6" stroke="#5a5a5a" stroke-width="1"/>
<line x1="746.7" y1="570.3" x2="746.7" y2="583.6" stroke="#5a5a5a" stroke-width="1"/>
<line x1="826.2" y1="570.3" x2="826.2" y2="583.6" stroke="#5a5a5a" stroke-width="1"/>
<line x1="926.4" y1="570.3" x2="926.4" y2="583.6" stroke="#5a5a5a" stroke-width="1"/>
<line x1="1022.7" y1="570.3" x2="1022.7" y2="583.6" stroke="#5a5a5a" stroke-width="1"/>
<path d="M1182.8 576 L1186.2 572.8 L1186.2 579.2 Z" fill="#8a8a8a"/>
<path d="M1205.3 576 L1201.9 572.8 L1201.9 579.2 Z" fill="#8a8a8a"/>
</svg>
</body></html>
